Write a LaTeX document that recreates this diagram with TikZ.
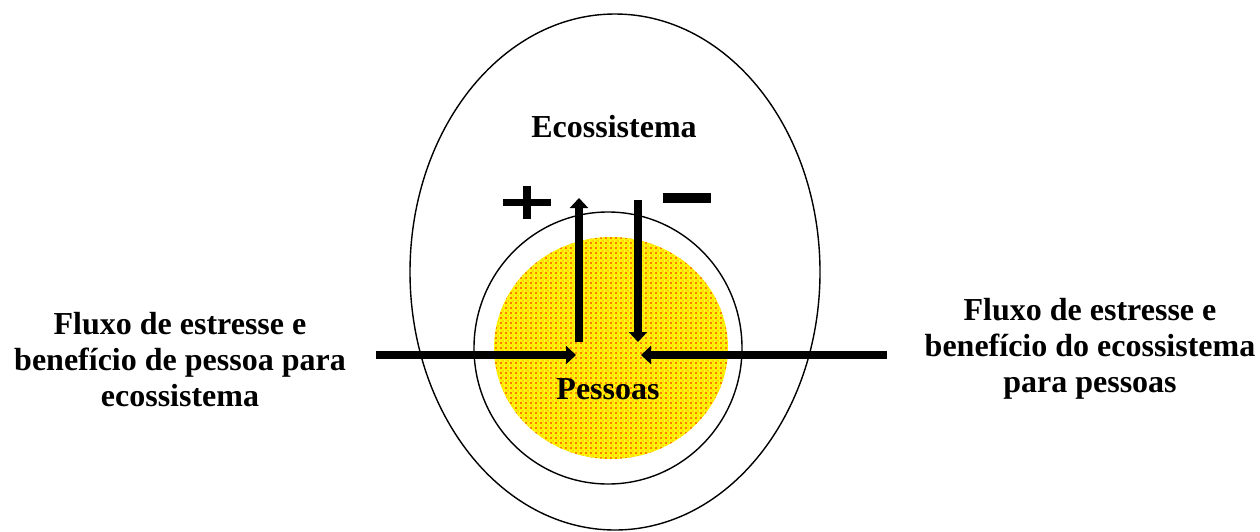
\documentclass[tikz,border=0pt]{standalone}
\usepackage{fontspec}
\setmainfont{Liberation Serif}
\usetikzlibrary{arrows.meta,patterns.meta}
\tikzdeclarepattern{name=reddots,type=colored,
  bottom left={(0pt,0pt)},top right={(4.5pt,4.5pt)},tile size={(4.5pt,4.5pt)},
  code={\fill[red] (1.1pt,1.1pt) circle (0.9pt);
        \fill[orange] (3.35pt,3.35pt) circle (0.6pt);}}
\tikzset{
  ring/.style={draw=black,line width=1.4pt},
  lbl/.style={font=\bfseries\fontsize{32}{36}\selectfont,align=center,inner sep=0pt},
  fat/.style={line width=8pt,-{Triangle[length=10pt,width=18pt]}},
  sign/.style={line width=8pt}
}
\begin{document}
\begin{tikzpicture}[x=1pt,y=-1pt]
\useasboundingbox (0,0) rectangle (1260,531);
% outer ecosystem ellipse
\draw[ring] (615,272) ellipse [x radius=205,y radius=258];
% inner circle
\draw[ring] (608,348) ellipse [x radius=134,y radius=136];
% people disc
\fill[yellow] (611,348) ellipse [x radius=117,y radius=111];
\fill[pattern=reddots] (611,348) ellipse [x radius=117,y radius=111];
% labels
\node[lbl] (eco) at (614,127) {Ecossistema};
\node[lbl] (pes) at (608,389) {Pessoas};
\node[lbl] (left) at (180,360) {Fluxo de estresse e\\benefício de pessoa para\\ecossistema};
\node[lbl] (right) at (1090,349) {Fluxo de estresse e\\benefício do ecossistema\\para pessoas};
% arrow anchors
\coordinate (upS) at (579,342);
\coordinate (upT) at (579,198);
\coordinate (dnS) at (638,200);
\coordinate (dnT) at (638,342);
\coordinate (lS) at (376,355);
\coordinate (lT) at (576,355);
\coordinate (rS) at (887,355);
\coordinate (rT) at (641,355);
\draw[fat] (upS) -- (upT);
\draw[fat] (dnS) -- (dnT);
\draw[fat] (lS) -- (lT);
\draw[fat] (rS) -- (rT);
% plus and minus signs
\draw[sign,line width=7pt] (503,202.5) -- (551,202.5);
\draw[sign] (527,186) -- (527,219);
\draw[sign,line width=10pt] (663,198) -- (711,198);
\end{tikzpicture}
\end{document}
